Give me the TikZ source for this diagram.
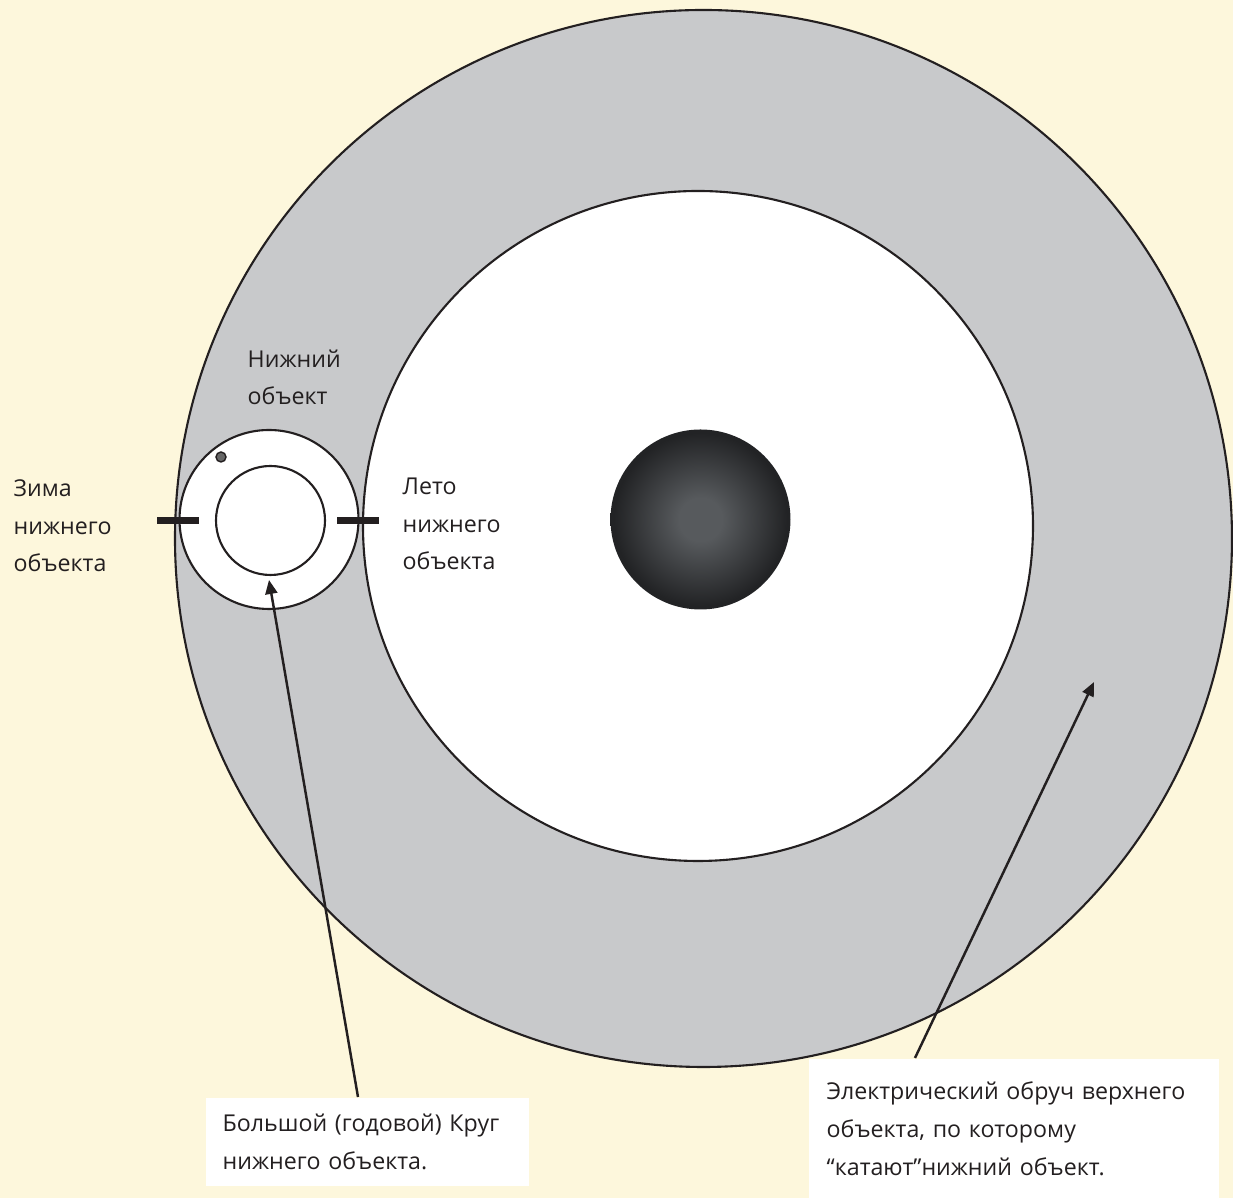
\documentclass[tikz,border=0pt]{standalone}
\usepackage{fontspec}
\setmainfont{Open Sans}
\usepackage{xcolor}
\usetikzlibrary{arrows.meta}
\definecolor{cream}{HTML}{FDF7DC}
\definecolor{hoopgrey}{HTML}{C8C9CB}
\definecolor{ink}{HTML}{231F20}
\definecolor{sunlight}{HTML}{575A5D}
\definecolor{sunedge}{HTML}{222325}
\pgfdeclareradialshading{sunshade}{\pgfpoint{0bp}{0bp}}{color(0bp)=(sunlight);
  color(6bp)=(sunlight); color(24bp)=(sunedge); color(50bp)=(sunedge)}
\tikzset{
  label/.style={anchor=base west, inner sep=0pt, align=left, text=ink,
    font={\fontsize{6.6}{10.8}\selectfont}},
  labelbox/.style={anchor=north west, fill=white, inner sep=0pt, text=ink,
    align=left, font={\fontsize{6.6}{10.8}\selectfont}},
  pointer/.style={draw=ink, line width=0.7pt, -{Triangle[length=1.4mm,width=1.2mm]}},
  tick/.style={draw=ink, line width=0.7mm}
}

\begin{document}
\begin{tikzpicture}[x=0.1mm,y=-0.1mm]
  % Background
  \fill[cream] (0,0) rectangle (1233,1198);
  \useasboundingbox (0,0) rectangle (1233,1198);

  % Electric hoop of the upper object
  \filldraw[fill=hoopgrey, draw=ink, line width=0.6pt] (703.5,538.5) circle[radius=528.5];
  \filldraw[fill=white, draw=ink, line width=0.6pt] (698,526) circle[radius=335];

  % Upper object
  \shade[shading=sunshade] (700.5,519.5) circle[radius=90];

  % Lower object and its year circle
  \filldraw[fill=white, draw=ink, line width=0.6pt] (269,519.5) circle[radius=89.5];
  \draw[ink, line width=0.6pt] (270.5,520.5) circle[radius=54.5];
  \filldraw[fill=black!60, draw=ink, line width=0.4pt] (221,457) circle[radius=5];

  % Winter and summer marks
  \draw[tick] (157,521) -- (199,521);
  \draw[tick] (337,521) -- (379,521);

  % Labels (anchored at the last line)
  \node[label] (lower) at (247,405) {Нижний\\объект};
  \node[label] (winter) at (13,572) {Зима\\нижнего\\объекта};
  \node[label] (summer) at (402,570) {Лето\\нижнего\\объекта};

  % Boxes
  \node[labelbox, minimum width=32.3mm, minimum height=8.8mm, text width=28.9mm,
    inner xsep=1.7mm] (yearbox) at (205,1097)
    {Большой (годовой) Круг\\нижнего объекта.};
  \node[labelbox, minimum width=41mm, minimum height=14mm, text width=37.4mm,
    inner xsep=1.8mm] (hoopbox) at (808,1058)
    {Электрический обруч верхнего\\объекта, по которому\\“катают”нижний объект.};

  % Pointers
  \coordinate (yeartip) at (269,580);
  \coordinate (hooptip) at (1094,682);
  \draw[pointer] ([xshift=15.3mm]yearbox.north west) -- (yeartip);
  \draw[pointer] ([xshift=10.7mm]hoopbox.north west) -- (hooptip);
\end{tikzpicture}
\end{document}
